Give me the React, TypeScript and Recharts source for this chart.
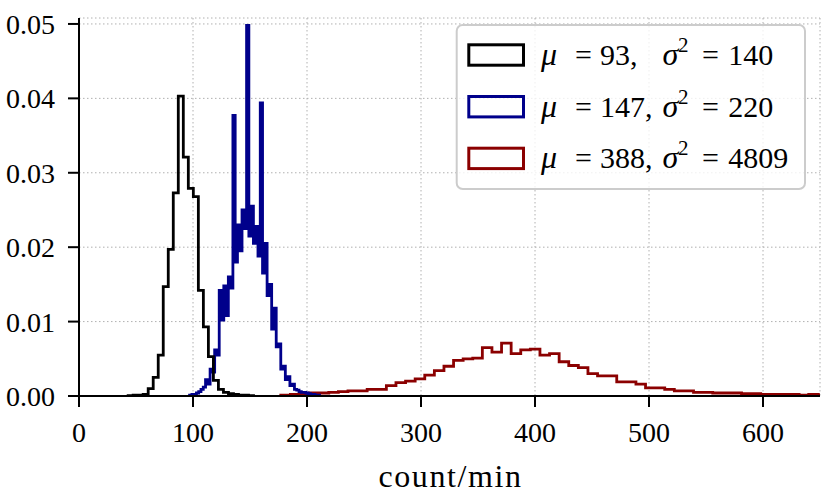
import React from 'react';
import { LineChart, Line, XAxis, YAxis, CartesianGrid } from 'recharts';

const xTicks = [0, 100, 200, 300, 400, 500, 600];
const yTicks = [0, 0.01, 0.02, 0.03, 0.04, 0.05];

// black histogram (bins of equal width)
const blackBinStart = 43.1;
const blackBinWidth = 4.4;
const blackDensity = [
  0.00005, 0.0001, 0.0001, 0.0002, 0.001, 0.0025, 0.0055, 0.0147, 0.0197, 0.0273,
  0.0403, 0.0321, 0.0279, 0.0268, 0.0142, 0.0093, 0.0053, 0.0021, 0.0009, 0.0005,
  0.0003, 0.0002, 0.0001, 0.0001, 0.00005,
];

// blue histogram
const blueBinStart = 97;
const blueBinWidth = 2;
const blueDensity = [
  0.0001, 0.0002, 0.0002, 0.0004, 0.0006, 0.0009, 0.0012, 0.0022, 0.0016, 0.0036,
  0.0032, 0.0062, 0.0055, 0.0142, 0.0102, 0.0148, 0.0108, 0.016, 0.0145, 0.0377,
  0.018, 0.023, 0.0195, 0.025, 0.0225, 0.0498, 0.0215, 0.0255, 0.0205, 0.0228,
  0.0188, 0.0394, 0.0165, 0.0205, 0.0135, 0.015, 0.009, 0.0118, 0.0066, 0.007,
  0.0036, 0.004, 0.0022, 0.0026, 0.0014, 0.0016, 0.0009, 0.0008, 0.0006, 0.0005,
  0.0005, 0.0004, 0.0003, 0.0002, 0.0002, 0.0001, 0.0001,
];

// red histogram
const redBinStart = 177;
const redBinWidth = 8.42;
const redDensity = [
  0.0001, 0.0002, 0.0003, 0.0004, 0.0004, 0.0005, 0.0006, 0.0007, 0.0007, 0.0009,
  0.0009, 0.0014, 0.0018, 0.002, 0.0023, 0.0028, 0.0034, 0.004, 0.0048, 0.005,
  0.0051, 0.0065, 0.0059, 0.0071, 0.0057, 0.0062, 0.0063, 0.0055, 0.0057, 0.0046,
  0.0041, 0.0038, 0.003, 0.0027, 0.0027, 0.0019, 0.0019, 0.0016, 0.0011, 0.0011,
  0.0009, 0.0007, 0.0007, 0.0005, 0.0005, 0.0004, 0.0004, 0.0004, 0.0003, 0.0003,
  0.0002, 0.0002, 0.0002, 0.0002, 0.0001, 0.0002, 0.0001,
];

const legendEntries = [
  { mu: '93,', variance: '140', color: '#000000' },
  { mu: '147,', variance: '220', color: '#00008b' },
  { mu: '388,', variance: '4809', color: '#8b0000' },
];

const xLabel = 'count/min';

function stepPoints(start: number, width: number, values: number[]) {
  const pts: { x: number; y: number }[] = [{ x: start, y: 0 }];
  values.forEach((v, i) => pts.push({ x: start + i * width, y: v }));
  pts.push({ x: start + values.length * width, y: 0 });
  return pts;
}

const blackPts = stepPoints(blackBinStart, blackBinWidth, blackDensity);
const bluePts = stepPoints(blueBinStart, blueBinWidth, blueDensity);
const redPts = stepPoints(redBinStart, redBinWidth, redDensity);

const FONT = "'Liberation Serif', 'Times New Roman', serif";
const W = 830;
const H = 498;
const LW = 2.8;

const XLabel = (props: any) => {
  const vb = props.viewBox || {};
  return (
    <text
      x={vb.x + vb.width / 2 + 1}
      y={vb.y + 91}
      textAnchor="middle"
      fontFamily={FONT}
      fontSize={32}
      style={{ letterSpacing: '1.6px' }}
      fill="#000"
    >
      {xLabel}
    </text>
  );
};

const Legend = () => {
  const boxX = 456.7;
  const boxY = 25;
  const rowH = 51.7;
  return (
    <svg
      width={W}
      height={H}
      style={{ position: 'absolute', left: 0, top: 0, pointerEvents: 'none' }}
    >
      <rect
        x={boxX}
        y={boxY}
        width={348.3}
        height={164}
        rx={6}
        ry={6}
        fill="#ffffff"
        fillOpacity={0.8}
        stroke="#cccccc"
        strokeWidth={2}
      />
      {legendEntries.map((e, i) => {
        const base = 65 + i * rowH;
        return (
          <g key={i} fontFamily={FONT} fill="#000">
            <rect
              x={468.8}
              y={44.8 + i * rowH}
              width={54.7}
              height={20.4}
              fill="none"
              stroke={e.color}
              strokeWidth={3}
            />
            <text x={541} y={base} fontSize={32} fontStyle="italic">μ</text>
            <text x={575} y={base} fontSize={30}>=</text>
            <text x={600} y={base} fontSize={30}>{e.mu}</text>
            <text x={662.5} y={base} fontSize={32} fontStyle="italic">σ</text>
            <text x={678} y={base - 13} fontSize={21} fontStyle="normal">2</text>
            <text x={702} y={base} fontSize={30}>=</text>
            <text x={728.3} y={base} fontSize={30}>{e.variance}</text>
          </g>
        );
      })}
    </svg>
  );
};

export default function App() {
  const axisStyle = { stroke: '#000', strokeWidth: 2 };
  return (
    <div style={{ position: 'absolute', left: 0, top: 0, width: W, height: H, background: '#fff' }}>
      <LineChart
        width={W}
        height={H}
        margin={{ top: 18, right: 10, left: 0, bottom: 0 }}
      >
        <CartesianGrid stroke="#b0b0b0" strokeDasharray="1.5 2.5" strokeWidth={1} />
        <XAxis
          dataKey="x"
          type="number"
          domain={[0, 650]}
          ticks={xTicks}
          allowDataOverflow
          height={102}
          tickSize={11}
          tickMargin={15}
          axisLine={axisStyle}
          tickLine={axisStyle}
          tick={{ fill: '#000', fontSize: 28, fontFamily: FONT }}
          label={<XLabel />}
          interval={0}
        />
        <XAxis
          xAxisId="top"
          orientation="top"
          type="number"
          domain={[0, 650]}
          ticks={[]}
          tick={false}
          tickLine={false}
          height={0}
          axisLine={axisStyle}
        />
        <YAxis
          type="number"
          domain={[0, 0.0508]}
          ticks={yTicks}
          allowDataOverflow
          width={79}
          tickSize={11}
          tickMargin={13}
          axisLine={axisStyle}
          tickLine={axisStyle}
          tick={{ fill: '#000', fontSize: 28, fontFamily: FONT }}
          tickFormatter={(v: number) => v.toFixed(2)}
          interval={0}
        />
        <YAxis
          yAxisId="right"
          orientation="right"
          type="number"
          domain={[0, 0.0508]}
          ticks={[]}
          tick={false}
          tickLine={false}
          width={0}
          axisLine={axisStyle}
        />
        <Line
          data={redPts}
          dataKey="y"
          type="stepAfter"
          stroke="#8b0000"
          strokeWidth={LW}
          strokeLinejoin="miter"
          dot={false}
          activeDot={false}
          isAnimationActive={false}
        />
        <Line
          data={bluePts}
          dataKey="y"
          type="stepAfter"
          stroke="#00008b"
          strokeWidth={LW}
          strokeLinejoin="miter"
          dot={false}
          activeDot={false}
          isAnimationActive={false}
        />
        <Line
          data={blackPts}
          dataKey="y"
          type="stepAfter"
          stroke="#000000"
          strokeWidth={LW}
          strokeLinejoin="miter"
          dot={false}
          activeDot={false}
          isAnimationActive={false}
        />
      </LineChart>
      <Legend />
    </div>
  );
}
